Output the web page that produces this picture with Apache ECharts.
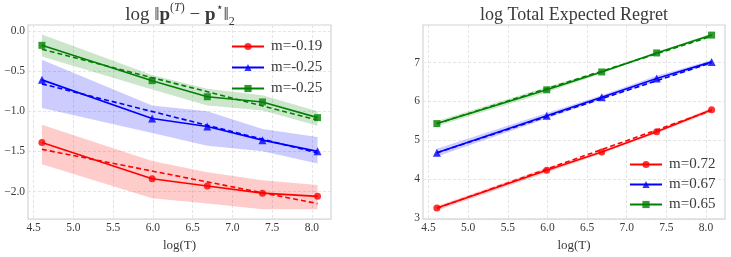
<!DOCTYPE html>
<html>
<head>
<meta charset="utf-8">
<script src="https://cdn.jsdelivr.net/npm/echarts@6/dist/echarts.min.js"></script>
<style>html,body{margin:0;padding:0;background:#fff;}#c{width:731px;height:257px;}</style>
</head>
<body>
<div id="c"></div>
<script>
// ---- data ----
const logT = [4.605, 5.991, 6.685, 7.378, 8.071];
const fitX = [4.605, 8.071];
const xTicks = [4.5, 5.0, 5.5, 6.0, 6.5, 7.0, 7.5, 8.0];
const errTicks = [0.0, -0.5, -1.0, -1.5, -2.0];
const regTicks = [3, 4, 5, 6, 7];

// left panel: log ||p(T) - p*||
const errRed = [-1.39, -1.84, -1.93, -2.02, -2.06];
const errRedLo = [-1.66, -2.085, -2.15, -2.22, -2.22];
const errRedHi = [-1.17, -1.62, -1.76, -1.86, -1.92];
const errRedFit = [-1.475, -2.15];
const errBlue = [-0.61, -1.09, -1.19, -1.36, -1.50];
const errBlueLo = [-0.96, -1.27, -1.43, -1.50, -1.65];
const errBlueHi = [-0.36, -0.93, -1.00, -1.22, -1.32];
const errBlueFit = [-0.66, -1.52];
const errGreen = [-0.18, -0.62, -0.82, -0.885, -1.08];
const errGreenLo = [-0.32, -0.73, -0.93, -0.99, -1.18];
const errGreenHi = [-0.045, -0.55, -0.72, -0.80, -1.00];
const errGreenFit = [-0.23, -1.11];
const errLabels = ['m=-0.19', 'm=-0.25', 'm=-0.25'];

// right panel: log total expected regret
const regRed = [3.255, 4.23, 4.70, 5.22, 5.785];
const regRedLo = [3.19, 4.17, 4.66, 5.18, 5.73];
const regRedHi = [3.31, 4.29, 4.74, 5.26, 5.84];
const regRedFit = [3.25, 5.77];
const regBlue = [4.68, 5.63, 6.11, 6.59, 7.02];
const regBlueLo = [4.58, 5.56, 6.06, 6.52, 6.98];
const regBlueHi = [4.78, 5.70, 6.16, 6.66, 7.06];
const regBlueFit = [4.68, 7.00];
const regGreen = [5.43, 6.30, 6.76, 7.25, 7.71];
const regGreenLo = [5.36, 6.23, 6.73, 7.22, 7.67];
const regGreenHi = [5.50, 6.37, 6.79, 7.28, 7.75];
const regGreenFit = [5.43, 7.68];
const regLabels = ['m=0.72', 'm=0.67', 'm=0.65'];

// ---- style ----
const FONT = 'Liberation Serif';
const TXT = '#3a3a3a';
const COLORS = ['#ff0000', '#0000ff', '#008000'];
const BANDS = ['rgba(255,0,0,0.2)', 'rgba(0,0,255,0.2)', 'rgba(0,128,0,0.2)'];
const SYMBOLS = ['circle', 'triangle', 'rect'];

const chart = echarts.init(document.getElementById('c'), null, {renderer: 'canvas'});

function pairs(xa, ya) { return xa.map((x, i) => [x, ya[i]]); }

function band(gi, lo, hi, color) {
  return {
    type: 'custom', xAxisIndex: gi, yAxisIndex: gi, z: 1, silent: true,
    data: [[logT[0], lo[0]]],
    renderItem: function (params, api) {
      const pts = [];
      for (let i = 0; i < logT.length; i++) pts.push(api.coord([logT[i], hi[i]]));
      for (let i = logT.length - 1; i >= 0; i--) pts.push(api.coord([logT[i], lo[i]]));
      return {type: 'polygon', shape: {points: pts}, style: {fill: color, stroke: null}};
    }
  };
}
function mainLine(gi, name, ys, k) {
  return {
    type: 'line', name: name, xAxisIndex: gi, yAxisIndex: gi, z: 3,
    data: pairs(logT, ys), symbol: SYMBOLS[k], symbolSize: k === 1 ? 8 : 7,
    lineStyle: {color: COLORS[k], width: 1.6},
    itemStyle: {color: COLORS[k], opacity: 0.8}
  };
}
function fitLine(gi, ys, k) {
  return {
    type: 'line', xAxisIndex: gi, yAxisIndex: gi, z: 2, showSymbol: false, symbol: 'none',
    data: pairs(fitX, ys), lineStyle: {color: COLORS[k], width: 1.6, type: [5, 3]}
  };
}
function xAxisCfg(gi) {
  return {
    type: 'value', gridIndex: gi, min: 4.43, max: 8.24,
    name: 'log(T)', nameLocation: 'middle', nameGap: 17,
    nameTextStyle: {fontFamily: FONT, fontSize: 13, color: TXT},
    axisLine: {show: false}, axisTick: {show: false, customValues: xTicks},
    axisLabel: {customValues: xTicks, formatter: v => v.toFixed(1), fontFamily: FONT, fontSize: 11.5, color: TXT, margin: 3},
    splitLine: {show: true, lineStyle: {color: '#dedede', type: [3, 2], width: 0.8}}
  };
}
function yAxisCfg(gi, mn, mx, ticks, fmt) {
  return {
    type: 'value', gridIndex: gi, min: mn, max: mx,
    axisLine: {show: false}, axisTick: {show: false, customValues: ticks},
    axisLabel: {customValues: ticks, formatter: fmt, fontFamily: FONT, fontSize: 11.5, color: TXT, margin: 3},
    splitLine: {show: true, lineStyle: {color: '#dedede', type: [3, 2], width: 0.8}}
  };
}

const errNames = ['e0', 'e1', 'e2'];
const regNames = ['r0', 'r1', 'r2'];
const errLabelMap = {}; errNames.forEach((n, i) => errLabelMap[n] = errLabels[i]);
const regLabelMap = {}; regNames.forEach((n, i) => regLabelMap[n] = regLabels[i]);

const option = {
  animation: false,
  backgroundColor: '#ffffff',
  grid: [
    {left: 28, right: 400, top: 25, bottom: 35, show: true, borderColor: '#d4d4d4', borderWidth: 1.2, backgroundColor: 'transparent'},
    {left: 423, right: 6, top: 25, bottom: 35, show: true, borderColor: '#d4d4d4', borderWidth: 1.2, backgroundColor: 'transparent'}
  ],
  xAxis: [xAxisCfg(0), xAxisCfg(1)],
  yAxis: [
    yAxisCfg(0, -2.343, 0.073, errTicks, v => v.toFixed(1).replace('-', '\u2212')),
    yAxisCfg(1, 2.97, 7.97, regTicks, v => String(v))
  ],
  legend: [
    {data: errNames, formatter: n => errLabelMap[n], orient: 'vertical', left: 226, top: 34,
     itemWidth: 32, itemHeight: 9, itemGap: 6,
     textStyle: {fontFamily: FONT, fontSize: 15, lineHeight: 15, color: TXT, padding: [0, 0, 0, 2]}},
    {data: regNames, formatter: n => regLabelMap[n], orient: 'vertical', left: 624, top: 152,
     itemWidth: 32, itemHeight: 9, itemGap: 5,
     textStyle: {fontFamily: FONT, fontSize: 15, lineHeight: 15, color: TXT, padding: [0, 0, 0, 2]}}
  ],
  graphic: [
    {type: 'text', x: 180, y: 15, style: {
      text: '{a|log \u2016}{b|p}{s|(}{si|T}{s|)}{a| \u2212 }{b|p}{s|\u22c6}{a|\u2016}{d|2}',
      align: 'center', verticalAlign: 'middle', fill: TXT,
      rich: {
        a: {fontFamily: FONT, fontSize: 19, fill: TXT, lineHeight: 26, verticalAlign: 'middle'},
        b: {fontFamily: FONT, fontSize: 19, fontWeight: 'bold', fill: TXT, lineHeight: 26, verticalAlign: 'middle'},
        s: {fontFamily: FONT, fontSize: 12, fill: TXT, lineHeight: 12, verticalAlign: 'top'},
        si: {fontFamily: FONT, fontSize: 12, fontStyle: 'italic', fill: TXT, lineHeight: 12, verticalAlign: 'top'},
        d: {fontFamily: FONT, fontSize: 12, fill: TXT, lineHeight: 10, verticalAlign: 'bottom'}
      }
    }},
    {type: 'text', x: 574, y: 15, style: {
      text: 'log Total Expected Regret', align: 'center', verticalAlign: 'middle',
      fontFamily: FONT, fontSize: 18, fill: TXT
    }}
  ],
  series: [
    band(0, errRedLo, errRedHi, BANDS[0]),
    band(0, errBlueLo, errBlueHi, BANDS[1]),
    band(0, errGreenLo, errGreenHi, BANDS[2]),
    fitLine(0, errRedFit, 0), fitLine(0, errBlueFit, 1), fitLine(0, errGreenFit, 2),
    mainLine(0, errNames[0], errRed, 0), mainLine(0, errNames[1], errBlue, 1), mainLine(0, errNames[2], errGreen, 2),
    band(1, regRedLo, regRedHi, BANDS[0]),
    band(1, regBlueLo, regBlueHi, BANDS[1]),
    band(1, regGreenLo, regGreenHi, BANDS[2]),
    fitLine(1, regRedFit, 0), fitLine(1, regBlueFit, 1), fitLine(1, regGreenFit, 2),
    mainLine(1, regNames[0], regRed, 0), mainLine(1, regNames[1], regBlue, 1), mainLine(1, regNames[2], regGreen, 2)
  ]
};
chart.setOption(option);
</script>
</body>
</html>
